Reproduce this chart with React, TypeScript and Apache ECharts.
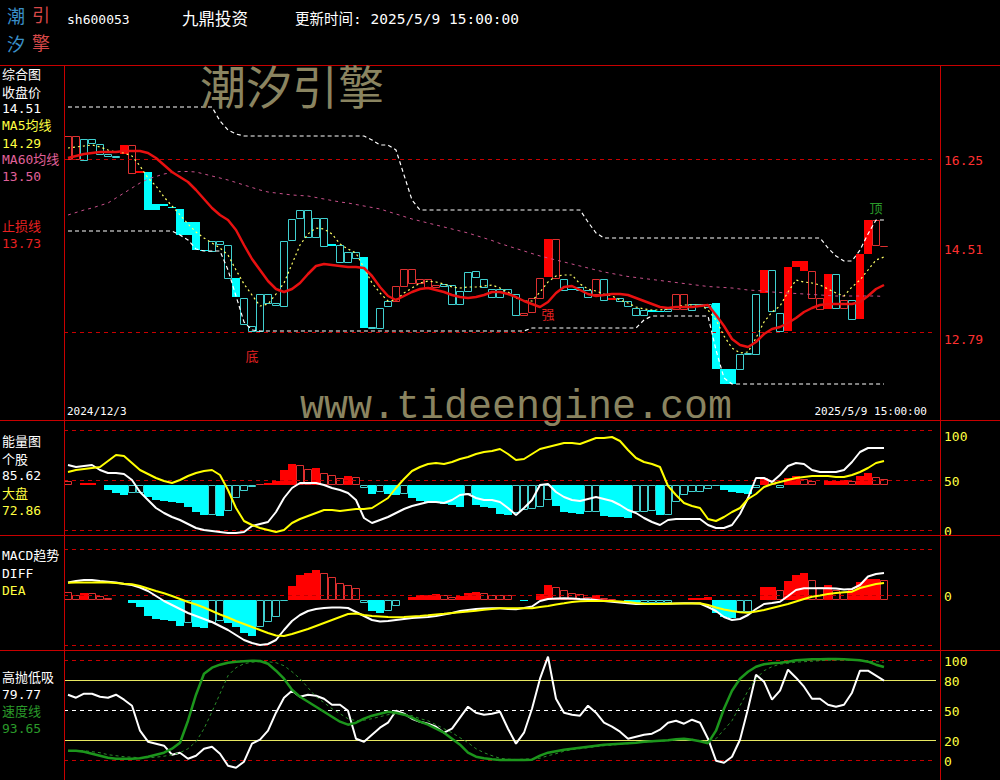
import React, { useEffect, useRef } from "react";
import * as echarts from "echarts";

// ---------------- data ----------------
const startDate = "2024/12/3";
const endDate = "2025/5/9 15:00:00";
const stockCode = "sh600053";
const stockName = "九鼎投资";
const updateTime = "更新时间: 2025/5/9 15:00:00";

const opens = [
  16.25, 16.25, 16.24, 16.58, 16.36, 16.31, 16.29, 16.53, 15.98, 16.01,
  16.0, 15.35, 15.35, 15.3, 15.26, 14.99, 14.99, 14.43, 14.42, 14.56,
  13.88, 13.87, 12.95, 12.82, 12.82, 13.38, 13.33, 13.32, 14.64, 15.08,
  14.7, 14.7, 14.52, 14.55, 14.2, 14.2, 14.28, 14.3, 12.88, 12.88,
  13.31, 13.42, 13.71, 13.78, 13.78, 13.7, 13.7, 13.72, 13.36, 13.36,
  13.62, 13.9, 13.7, 13.5, 13.5, 13.58, 13.13, 13.13, 13.2, 13.48,
  14.66, 13.88, 13.64, 13.66, 13.64, 13.5, 13.55, 13.44, 13.48, 13.42,
  13.31, 13.13, 13.13, 13.24, 13.21, 13.22, 13.26, 13.26, 13.24, 13.33,
  13.3, 13.38, 12.05, 12.05, 12.05, 12.35, 12.36, 14.03, 13.22, 12.82,
  14.1, 14.21, 14.21, 13.48, 13.26, 13.96, 13.28, 13.28, 13.06, 14.35,
  15.03, 14.54, 14.51,
];
const closes = [
  16.71, 16.71, 16.65, 16.65, 16.56, 16.35, 16.31, 16.36, 16.53, 15.98,
  15.24, 15.24, 15.31, 15.27, 14.73, 14.73, 14.44, 14.41, 14.62, 14.62,
  14.54, 13.5, 13.48, 12.92, 13.56, 13.56, 13.38, 14.62, 15.06, 15.24,
  15.24, 15.08, 15.08, 14.51, 14.54, 14.4, 14.4, 12.88, 12.9, 13.28,
  13.41, 13.71, 14.06, 14.06, 13.86, 13.86, 13.74, 13.75, 13.74, 13.61,
  14.0, 14.01, 13.86, 13.65, 13.66, 13.66, 13.56, 13.18, 13.48, 13.88,
  13.9, 14.66, 13.86, 13.63, 13.7, 13.64, 13.86, 13.86, 13.44, 13.48,
  13.42, 13.28, 13.24, 13.2, 13.19, 13.26, 13.55, 13.55, 13.36, 13.36,
  13.36, 12.05, 11.75, 11.75, 12.35, 12.38, 13.56, 13.58, 14.03, 13.18,
  12.82, 14.1, 14.02, 14.02, 13.48, 13.26, 13.96, 13.43, 13.43, 13.06,
  14.35, 15.03, 14.51,
];
// 1 = strong (red) state, -1 = weak (cyan) state
const trend = [
  1, 1, -1, -1, -1, -1, -1, 1, 1, 1,
  -1, -1, -1, -1, -1, -1, -1, -1, -1, -1,
  -1, -1, -1, -1, -1, -1, -1, -1, -1, -1,
  -1, -1, -1, -1, -1, -1, -1, -1, -1, -1,
  -1, 1, 1, 1, 1, 1, 1, -1, -1, -1,
  -1, -1, -1, -1, -1, -1, -1, 1, 1, 1,
  1, 1, -1, -1, -1, -1, 1, -1, 1, -1,
  -1, -1, -1, -1, -1, -1, 1, 1, -1, -1,
  -1, -1, -1, -1, -1, -1, -1, 1, -1, -1,
  1, 1, 1, 1, 1, 1, -1, 1, -1, 1,
  1, 1, 1,
];
const ma5 = [
  16.47, 16.49, 16.51, 16.53, 16.49, 16.43, 16.39, 16.37, 16.31, 16.11,
  15.87, 15.71, 15.49, 15.31, 15.13, 14.95, 14.79, 14.67, 14.57, 14.47,
  14.33, 14.03, 13.75, 13.53, 13.31, 13.35, 13.55, 13.77, 14.15, 14.53,
  14.75, 14.87, 14.85, 14.75, 14.55, 14.45, 14.37, 14.07, 13.77, 13.57,
  13.41, 13.43, 13.57, 13.67, 13.77, 13.81, 13.79, 13.75, 13.69, 13.67,
  13.69, 13.69, 13.71, 13.73, 13.67, 13.59, 13.47, 13.41, 13.41, 13.59,
  13.79, 13.91, 13.93, 13.93, 13.75, 13.65, 13.61, 13.55, 13.51, 13.43,
  13.37, 13.29, 13.25, 13.23, 13.23, 13.25, 13.29, 13.33, 13.33, 13.33,
  13.23, 13.03, 12.71, 12.47, 12.37, 12.39, 12.67, 12.99, 13.19, 13.31,
  13.59, 13.83, 13.79, 13.77, 13.73, 13.65, 13.57, 13.51, 13.69, 13.83,
  14.03, 14.23, 14.29,
];
const ma60 = [
  15.13, 15.18, 15.23, 15.27, 15.32, 15.37, 15.47, 15.57, 15.67, 15.77,
  15.85, 15.9, 15.95, 15.98, 16.0, 16.0, 15.99, 15.95, 15.91, 15.87,
  15.83, 15.78, 15.73, 15.68, 15.63, 15.59, 15.57, 15.55, 15.53, 15.52,
  15.51, 15.48, 15.45, 15.42, 15.39, 15.37, 15.34, 15.31, 15.28, 15.25,
  15.2, 15.15, 15.1, 15.05, 15.01, 14.97, 14.93, 14.89, 14.85, 14.81,
  14.77, 14.72, 14.67, 14.62, 14.56, 14.51, 14.46, 14.41, 14.36, 14.31,
  14.27, 14.23, 14.19, 14.15, 14.11, 14.07, 14.03, 13.99, 13.96, 13.93,
  13.9, 13.88, 13.86, 13.84, 13.82, 13.8, 13.78, 13.76, 13.74, 13.72,
  13.7, 13.69, 13.68, 13.67, 13.65, 13.63, 13.62, 13.61, 13.59, 13.58,
  13.57, 13.56, 13.55, 13.54, 13.53, 13.52, 13.51, 13.51, 13.51, 13.51,
  13.51, 13.51, 13.5,
];
const stopLine = [
  16.27, 16.31, 16.35, 16.37, 16.39, 16.39, 16.39, 16.41, 16.41, 16.41,
  16.37, 16.27, 16.13, 15.99, 15.89, 15.79, 15.63, 15.45, 15.27, 15.13,
  15.03, 14.83, 14.53, 14.25, 14.03, 13.81, 13.65, 13.59, 13.65, 13.77,
  13.95, 14.11, 14.15, 14.13, 14.11, 14.09, 14.09, 14.07, 13.91, 13.69,
  13.51, 13.43, 13.51, 13.59, 13.65, 13.67, 13.63, 13.59, 13.53, 13.49,
  13.47, 13.49, 13.53, 13.59, 13.59, 13.55, 13.49, 13.41, 13.35, 13.29,
  13.39, 13.57, 13.69, 13.71, 13.63, 13.55, 13.51, 13.53, 13.55, 13.55,
  13.53, 13.47, 13.41, 13.35, 13.29, 13.27, 13.29, 13.29, 13.29, 13.31,
  13.33, 13.13, 12.91, 12.65, 12.53, 12.49, 12.59, 12.75, 12.85, 12.89,
  12.97, 13.07, 13.19, 13.27, 13.33, 13.35, 13.35, 13.35, 13.35, 13.39,
  13.51, 13.65, 13.73,
];
const upperBand = [
  17.29, 17.29, 17.29, 17.29, 17.29, 17.29, 17.29, 17.29, 17.29, 17.29,
  17.29, 17.29, 17.29, 17.29, 17.29, 17.29, 17.29, 17.29, 17.29, 17.01,
  16.83, 16.75, 16.71, 16.71, 16.71, 16.71, 16.71, 16.71, 16.71, 16.71,
  16.71, 16.71, 16.71, 16.71, 16.71, 16.71, 16.71, 16.71, 16.63, 16.53,
  16.53, 16.43, 15.93, 15.43, 15.23, 15.23, 15.23, 15.23, 15.23, 15.23,
  15.23, 15.23, 15.23, 15.23, 15.23, 15.23, 15.23, 15.23, 15.23, 15.23,
  15.23, 15.23, 15.23, 15.23, 15.23, 14.99, 14.77, 14.67, 14.67, 14.67,
  14.67, 14.67, 14.67, 14.67, 14.67, 14.67, 14.67, 14.67, 14.67, 14.67,
  14.67, 14.67, 14.67, 14.67, 14.67, 14.67, 14.67, 14.67, 14.67, 14.67,
  14.67, 14.67, 14.67, 14.67, 14.67, 14.47, 14.31, 14.21, 14.21, 14.43,
  14.75, 15.03, 15.03,
];
const lowerBand = [
  14.81, 14.81, 14.81, 14.81, 14.81, 14.81, 14.81, 14.81, 14.81, 14.81,
  14.81, 14.81, 14.81, 14.81, 14.73, 14.63, 14.45, 14.41, 14.41, 14.41,
  14.03, 13.51, 12.99, 12.83, 12.81, 12.81, 12.81, 12.81, 12.81, 12.81,
  12.81, 12.81, 12.81, 12.81, 12.81, 12.81, 12.81, 12.81, 12.81, 12.81,
  12.81, 12.81, 12.81, 12.81, 12.81, 12.81, 12.81, 12.81, 12.81, 12.81,
  12.81, 12.81, 12.81, 12.81, 12.81, 12.81, 12.81, 12.81, 12.87, 12.87,
  12.87, 12.87, 12.87, 12.87, 12.87, 12.87, 12.87, 12.87, 12.87, 12.87,
  12.87, 12.87, 13.03, 13.11, 13.11, 13.11, 13.11, 13.11, 13.11, 13.11,
  13.11, 12.43, 11.87, 11.75, 11.75, 11.75, 11.75, 11.75, 11.75, 11.75,
  11.75, 11.75, 11.75, 11.75, 11.75, 11.75, 11.75, 11.75, 11.75, 11.75,
  11.75, 11.75, 11.75,
];
const priceTicks = [12.79, 14.51, 16.25];
const priceLevels = [16.25, 12.79];
const signalIndex = [23, 60, 101];
const signalPrice = [12.33, 13.17, 15.29];
const signalText = ["底", "强", "顶"];

const energyStock = [
  65, 63, 64, 65, 60, 57, 57, 56, 50, 38,
  30, 22, 17, 13, 10, 6, 2, 0, -1, -2,
  -3, -3, -2, 4, 6, 8, 18, 32, 42, 47,
  47, 47, 45, 42, 40, 37, 30, 12, 7, 10,
  13, 17, 21, 24, 26, 28, 28, 27, 30, 35,
  36, 32, 30, 30, 28, 22, 15, 22, 30, 45,
  46, 38, 33, 30, 29, 31, 33, 31, 29, 25,
  20, 17, 12, 8, 5, 10, 11, 11, 11, 11,
  5, 2, 2, 5, 16, 32, 52, 52, 48, 55,
  64, 67, 66, 60, 58, 58, 58, 60, 68, 78,
  82, 82, 82,
];
const energyMarket = [
  58, 60, 61, 62, 63, 69, 75, 74, 67, 60,
  56, 52, 49, 47, 50, 54, 57, 59, 60, 55,
  40, 22, 9, 5, 2, 0, -2, 0, 7, 11,
  14, 17, 20, 20, 19, 20, 21, 21, 22, 27,
  32, 42, 51, 59, 63, 66, 67, 66, 68, 71,
  73, 76, 78, 79, 81, 76, 70, 71, 76, 81,
  83, 85, 87, 87, 86, 89, 92, 92, 93, 89,
  80, 72, 68, 66, 63, 44, 35, 27, 24, 22,
  11, 9, 13, 18, 22, 31, 36, 43, 46, 48,
  50, 52, 53, 54, 54, 54, 53, 53, 55, 58,
  62, 67, 69,
];
const energyBars = [
  4, null, 2, 2.5, null, -5, -8, -10, -8, -8,
  -12, -15, -16, -17, -18, -22, -27, -30, -30, -31,
  -26, -13, -6, -2, 1.5, 2, 4, 15, 21, 20,
  16, 17, 12, 10, 7, 9, 8, -3, -9, -7,
  -9, -9.5, -9, -13, -16, -17, -18, -19, -20, -22,
  -9, -20, -22, -23, -29, -30, -28, -25, -24, -22,
  -15, -21, -27, -28, -28.5, -27, -27, -31, -31.5, -32,
  -32.5, -27, -27, -26, -30, -30, -17, -10, -7, -7,
  -4, -1, -5, -7, -8, -9, -3, 7, 4, -3,
  7, 9, 6, 4, null, 4, 4.5, 5, 4, 9,
  12, 8, 6,
];
const energyTicks = [0, 50, 100];

const diff = [
  0.125, 0.14, 0.15, 0.15, 0.14, 0.133, 0.125, 0.11, 0.1, 0.075,
  0.04, -0.01, -0.06, -0.1, -0.14, -0.18, -0.21, -0.24, -0.27, -0.31,
  -0.35, -0.4, -0.45, -0.48, -0.5, -0.49, -0.45, -0.35, -0.26, -0.2,
  -0.16, -0.14, -0.13, -0.125, -0.125, -0.13, -0.17, -0.21, -0.25, -0.265,
  -0.26, -0.25, -0.24, -0.23, -0.225, -0.22, -0.21, -0.195, -0.18, -0.16,
  -0.15, -0.14, -0.135, -0.133, -0.133, -0.14, -0.143, -0.13, -0.115, -0.06,
  -0.04, -0.035, -0.033, -0.035, -0.04, -0.043, -0.05, -0.06, -0.067, -0.075,
  -0.083, -0.09, -0.09, -0.09, -0.09, -0.088, -0.085, -0.083, -0.083, -0.085,
  -0.12, -0.16, -0.22, -0.25, -0.24, -0.2, -0.14, -0.09, -0.08, -0.067,
  -0.01, 0.05, 0.067, 0.067, 0.067, 0.067, 0.065, 0.055, 0.06, 0.1,
  0.185, 0.21, 0.22,
];
const dea = [
  0.123, 0.124, 0.125, 0.126, 0.127, 0.125, 0.12, 0.113, 0.107, 0.09,
  0.065, 0.04, 0.017, -0.01, -0.04, -0.07, -0.095, -0.125, -0.16, -0.195,
  -0.225, -0.26, -0.29, -0.32, -0.35, -0.38, -0.405, -0.41, -0.39, -0.365,
  -0.34, -0.31, -0.28, -0.25, -0.22, -0.19, -0.185, -0.2, -0.21, -0.215,
  -0.22, -0.223, -0.22, -0.215, -0.21, -0.203, -0.195, -0.188, -0.18, -0.172,
  -0.165, -0.157, -0.148, -0.14, -0.133, -0.133, -0.133, -0.133, -0.133, -0.12,
  -0.11, -0.095, -0.083, -0.07, -0.062, -0.06, -0.06, -0.06, -0.06, -0.065,
  -0.07, -0.08, -0.088, -0.09, -0.09, -0.088, -0.086, -0.085, -0.084, -0.083,
  -0.1, -0.125, -0.145, -0.16, -0.172, -0.177, -0.165, -0.15, -0.13, -0.11,
  -0.09, -0.065, -0.04, -0.017, -0.005, 0.01, 0.02, 0.027, 0.033, 0.07,
  0.09, 0.11, 0.12,
];
const macdBars = [
  0.083, 0.05, 0.073, 0.067, 0.04, 0.017, null, null, -0.033, -0.067,
  -0.16, -0.193, -0.2, -0.207, -0.26, -0.233, -0.273, -0.28, -0.227, -0.207,
  -0.233, -0.273, -0.327, -0.36, -0.273, -0.217, -0.173, -0.01, 0.14, 0.25,
  0.273, 0.3, 0.267, 0.227, 0.167, 0.15, 0.117, -0.027, -0.107, -0.127,
  -0.107, -0.06, null, 0.027, 0.05, 0.055, 0.06, 0.05, 0.033, 0.04,
  0.073, 0.083, 0.073, 0.05, 0.05, 0.05, null, -0.01, null, 0.06,
  0.15, 0.133, 0.1, 0.073, 0.06, 0.027, 0.05, 0.017, 0.01, null,
  -0.02, -0.03, -0.03, -0.03, -0.03, -0.03, null, null, 0.017, 0.023,
  0.033, -0.127, -0.173, -0.175, -0.117, -0.115, null, 0.133, 0.135, 0.1,
  0.193, 0.25, 0.267, 0.2, 0.133, 0.15, 0.1, 0.083, 0.1, 0.183,
  0.207, 0.21, 0.2,
];
const macdLevels = [0.46, 0, -0.5];

const hiLo = [
  66, 63, 67, 67, 64, 63, 66, 61, 55, 30,
  19, 17, 15, 6, 8, 2, 5, 12, 14, 7,
  -5, -7, -1, 17, 21, 30, 48, 63, 70, 64,
  66, 65, 62, 56, 56, 50, 22, 19, 26, 33,
  38, 50, 47, 42, 39, 37, 34, 28, 32, 43,
  54, 48, 46, 47, 49, 32, 17, 28, 52, 82,
  104, 62, 48, 46, 45, 55, 48, 38, 34, 29,
  22, 24, 26, 27, 31, 38, 40, 37, 41, 38,
  22, 0, -2, 4, 21, 52, 86, 79, 61, 70,
  91, 83, 74, 62, 62, 56, 54, 56, 68, 90,
  90, 85, 80,
];
const speed = [
  10, 10, 9, 7, 5, 3, 2, 2, 2, 2.5,
  4, 6, 8, 12, 18, 40, 66, 87, 93, 96,
  98, 99, 99.5, 100, 99.7, 97, 90, 82, 71, 64,
  59, 54, 49, 44, 39, 36, 38, 42, 45, 47,
  49, 48, 46, 43, 39, 36, 32, 28, 22, 16,
  8, 4, 2.5, 1.5, 0.7, 0.7, 0.7, 0.7, 1, 5,
  8, 9.5, 11, 12, 13, 14, 15, 16, 16.5, 17,
  17.5, 18, 19, 19.5, 20, 20.5, 21.5, 22, 21, 19.5,
  17.5, 30, 52, 70, 82, 89, 94, 96.5, 97.5, 98,
  99, 100.5, 101, 101.5, 101.5, 101.7, 101.7, 101.5, 101, 100.5,
  99, 96, 93.65,
];
const speedSlow = [
  10, 10, 10, 9, 8, 6, 5, 4, 3.5, 3,
  3, 3.5, 4.5, 6, 8, 12, 19, 32, 49, 67,
  85, 93, 97, 98.5, 99, 99, 98, 95, 89, 82,
  73, 64, 58, 52, 47, 42, 40, 40.5, 42, 44,
  46, 47, 46.5, 45, 42, 40, 36, 32, 28, 23,
  18, 12, 8, 5, 2.4, 1.5, 1.2, 1.5, 2, 2.5,
  5, 7, 9.5, 11, 12, 13, 14, 15, 15.5, 16.5,
  17, 18, 18.5, 19, 19.5, 20, 21, 21.7, 21.5, 20,
  19, 22, 31, 40, 55, 70, 82, 90, 94, 96.5,
  97.5, 98.5, 99, 99.5, 100, 100.5, 100.7, 100.7, 100.5, 100,
  99.5, 99, 98.5,
];
const oscTicks = [0, 20, 50, 80, 100];

const legendTop = { close: "14.51", ma5: "14.29", ma60: "13.50", stop: "13.73" };
const legendEnergy = { stock: "85.62", market: "72.86" };
const legendOsc = { hiLo: "79.77", speed: "93.65" };

// ---------------- styling ----------------
const RED_FILL = "#ff0000";
const RED_LINE = "#dd3030";
const CYAN_FILL = "#00ffff";
const CYAN_LINE = "#40d0d0";
const FRAME = "#c80000";
const MONO = '"DejaVu Sans Mono", "Noto Sans CJK SC", monospace';

const pts = (arr: any[]) => arr.map((v, i) => [i, v]);

function grows(arr: any[], i: number) {
  if (i === 0) return false;
  const prev = arr[i - 1];
  if (prev == null) return true;
  return Math.abs(arr[i]) > Math.abs(prev);
}

function barData(arr: any[]) {
  const out: any[] = [];
  arr.forEach((v, i) => {
    if (v != null) out.push([i, v, grows(arr, i) ? 1 : 0]);
  });
  return out;
}

function renderBar(params: any, api: any) {
  const i = api.value(0);
  const v = api.value(1);
  const f = api.value(2);
  const p0 = api.coord([i, 0]);
  const p1 = api.coord([i, v]);
  const cx = Math.round(p0[0]);
  const up = v > 0;
  const yA = Math.round(Math.min(p0[1], p1[1]));
  const yB = Math.round(Math.max(p0[1], p1[1]));
  if (f) {
    return {
      type: "rect",
      shape: { x: cx - 4, y: yA, width: 8, height: Math.max(yB - yA, 1) },
      style: { fill: up ? RED_FILL : CYAN_FILL },
    };
  }
  return {
    type: "rect",
    shape: { x: cx - 3.5, y: yA + 0.5, width: 7, height: Math.max(yB - yA - 1, 0) },
    style: { fill: "none", stroke: up ? RED_LINE : CYAN_LINE, lineWidth: 1 },
  };
}

function renderCandle(params: any, api: any) {
  const i = api.value(0);
  const o = api.value(1);
  const c = api.value(2);
  const t = api.value(3);
  const pTop = api.coord([i, Math.max(o, c)]);
  const pBot = api.coord([i, Math.min(o, c)]);
  const cx = Math.round(pTop[0]);
  const yA = Math.round(pTop[1]);
  const yB = Math.round(pBot[1]);
  const hollow = c >= o;
  if (!hollow) {
    return {
      type: "rect",
      shape: { x: cx - 4, y: yA, width: 8, height: Math.max(yB - yA, 1) },
      style: { fill: t > 0 ? RED_FILL : CYAN_FILL },
    };
  }
  return {
    type: "rect",
    shape: { x: cx - 3.5, y: yA + 0.5, width: 7, height: Math.max(yB - yA, 0) },
    style: { fill: "none", stroke: t > 0 ? RED_LINE : CYAN_LINE, lineWidth: 1 },
  };
}

function lineSeries(data: number[], xi: number, yi: number, style: any, extra: any = {}) {
  return {
    type: "line",
    xAxisIndex: xi,
    yAxisIndex: yi,
    data: pts(data),
    showSymbol: false,
    symbol: "none",
    silent: true,
    z: 5,
    lineStyle: style,
    ...extra,
  };
}

function dashedLevels(values: number[], color = FRAME) {
  return {
    symbol: "none",
    silent: true,
    label: { show: false },
    lineStyle: { color, type: [4, 4], width: 1 },
    data: values.map((v) => ({ yAxis: v })),
  };
}

function txt(text: string, x: number, y: number, fill: string, size = 13, extra: any = {}) {
  return {
    type: "text",
    x,
    y,
    z: 50,
    silent: true,
    style: { text, fill, font: `${size}px ${MONO}`, verticalAlign: "middle", ...extra },
  };
}

function hline(y: number) {
  return { type: "line", silent: true, z: 40, shape: { x1: 0, y1: y, x2: 1000, y2: y }, style: { stroke: FRAME, lineWidth: 1 } };
}
function vline(x: number) {
  return { type: "line", silent: true, z: 40, shape: { x1: x, y1: 65, x2: x, y2: 780 }, style: { stroke: FRAME, lineWidth: 1 } };
}

// axis label whose text is pushed down by `shift(v)` pixels
function yLabel(vals: number[], color: string, fmt: (v: number) => string, shift: (v: number) => number) {
  const rich: any = {};
  for (let s = 0; s <= 16; s++) rich["s" + s] = { color, fontFamily: MONO, fontSize: 13, padding: [s * 2, 0, 0, 0] };
  return {
    customValues: vals,
    formatter: (v: number) => `{s${shift(v)}|${fmt(v)}}`,
    color,
    fontFamily: MONO,
    fontSize: 13,
    margin: 8,
    rich,
  };
}

function buildOption() {
  const grids = [
    { left: 64, top: 65, width: 872, height: 355 },
    { left: 64, top: 420, width: 872, height: 115 },
    { left: 64, top: 535, width: 872, height: 115 },
    { left: 64, top: 650, width: 872, height: 130 },
  ];
  const xAxes = grids.map((_, g) => ({ type: "value", gridIndex: g, min: -0.5, max: 108.5, show: false }));
  const hiddenParts = { axisLine: { show: false }, axisTick: { show: false }, splitLine: { show: false } };
  const yAxes = [
    {
      type: "value", gridIndex: 0, min: 11.03, max: 18.13, position: "right", ...hiddenParts,
      axisLabel: yLabel(priceTicks, "#ff3030", (v) => v.toFixed(2), (v) => (v < 13 ? 7 : v < 15 ? 3 : 1)),
    },
    {
      type: "value", gridIndex: 1, min: -5, max: 110, position: "right", ...hiddenParts,
      axisLabel: yLabel(energyTicks, "#ffff40", (v) => String(v), (v) => (v >= 100 ? 6 : 1)),
    },
    { type: "value", gridIndex: 1, min: -50, max: 65, show: false },
    {
      type: "value", gridIndex: 2, min: -0.55, max: 0.6, position: "right", ...hiddenParts,
      axisLabel: yLabel([0], "#ffff40", () => "0", () => 1),
    },
    { type: "value", gridIndex: 2, min: -0.5, max: 0.65, show: false },
    {
      type: "value", gridIndex: 3, min: -19.3, max: 110.7, position: "right", ...hiddenParts,
      axisLabel: yLabel(oscTicks, "#ffff40", (v) => String(v), () => 1),
    },
  ];

  const signalColors: any = { 底: "#e02020", 强: "#e02020", 顶: "#2a9a2a" };

  const series: any[] = [
    {
      type: "custom",
      xAxisIndex: 0,
      yAxisIndex: 0,
      z: 3,
      silent: true,
      data: opens.map((o, i) => [i, o, closes[i], trend[i]]),
      encode: { x: 0, y: [1, 2] },
      renderItem: renderCandle,
    },
    lineSeries(ma60, 0, 0, { color: "#c8508a", width: 1, type: [3, 4] }, {
      markLine: dashedLevels(priceLevels),
      markPoint: {
        symbol: "rect",
        symbolSize: 1,
        silent: true,
        itemStyle: { color: "rgba(0,0,0,0)" },
        data: signalIndex.map((idx, k) => ({
          coord: [idx, signalPrice[k]],
          value: signalText[k],
          label: {
            show: true,
            formatter: signalText[k],
            color: signalColors[signalText[k]],
            fontSize: 13,
            fontFamily: '"Noto Sans CJK SC"',
            position: "inside",
          },
        })),
      },
    }),
    lineSeries(upperBand, 0, 0, { color: "#ffffff", width: 1.2, type: [4, 3] }),
    lineSeries(lowerBand, 0, 0, { color: "#ffffff", width: 1.2, type: [4, 3] }),
    lineSeries(ma5, 0, 0, { color: "#ffff66", width: 1.2, type: [2, 3] }),
    lineSeries(stopLine, 0, 0, { color: "#e81010", width: 2.5 }),
    {
      type: "custom",
      xAxisIndex: 1,
      yAxisIndex: 2,
      z: 3,
      silent: true,
      data: barData(energyBars),
      encode: { x: 0, y: 1 },
      renderItem: renderBar,
    },
    lineSeries(energyStock, 1, 1, { color: "#ffffff", width: 2 }, { markLine: dashedLevels(energyTicks) }),
    lineSeries(energyMarket, 1, 1, { color: "#ffff00", width: 2 }),
    {
      type: "custom",
      xAxisIndex: 2,
      yAxisIndex: 4,
      z: 3,
      silent: true,
      data: barData(macdBars),
      encode: { x: 0, y: 1 },
      renderItem: renderBar,
    },
    lineSeries(diff, 2, 3, { color: "#ffffff", width: 2 }, { markLine: dashedLevels(macdLevels) }),
    lineSeries(dea, 2, 3, { color: "#ffff00", width: 2 }),
    lineSeries(hiLo, 3, 5, { color: "#ffffff", width: 2 }, {
      markLine: {
        symbol: "none",
        silent: true,
        label: { show: false },
        data: [
          { yAxis: 100, lineStyle: { color: FRAME, type: [4, 4], width: 1 } },
          { yAxis: 0, lineStyle: { color: FRAME, type: [4, 4], width: 1 } },
          { yAxis: 80, lineStyle: { color: "#e8e860", type: "solid", width: 1 } },
          { yAxis: 20, lineStyle: { color: "#e8e860", type: "solid", width: 1 } },
          { yAxis: 50, lineStyle: { color: "#ffffff", type: [4, 4], width: 1 } },
        ],
      },
    }),
    lineSeries(speedSlow, 3, 5, { color: "#2a8a2a", width: 1, type: [3, 3] }),
    lineSeries(speed, 3, 5, { color: "#1c961c", width: 2.5 }),
  ];

  const logoFont = '18px "Noto Sans CJK SC"';
  const logoStyle = (text: string, fill: string) => ({ text, fill, font: logoFont, verticalAlign: "middle", lineHeight: 18 });
  const graphic: any[] = [
    hline(65.5), hline(420.5), hline(535.5), hline(650.5), vline(64.5), vline(940.5),
    // logo
    { type: "text", x: 7, y: 15, z: 50, silent: true, style: logoStyle("潮", "#3a8fc8") },
    { type: "text", x: 32, y: 14, z: 50, silent: true, style: logoStyle("引", "#d84848") },
    { type: "text", x: 7, y: 43, z: 50, silent: true, style: logoStyle("汐", "#3a8fc8") },
    { type: "text", x: 32, y: 42, z: 50, silent: true, style: logoStyle("擎", "#d84848") },
    txt(stockCode, 67, 19, "#ffffff", 13),
    txt(stockName, 182, 19, "#ffffff", 16.5),
    txt(updateTime, 295, 19, "#ffffff", 14.5),
    // watermarks
    { type: "text", x: 200, y: 84, z: 45, silent: true, style: { text: "潮汐引擎", fill: "#8a8460", font: '46px "Noto Sans CJK SC"', verticalAlign: "middle" } },
    { type: "text", x: 300, y: 407, z: 45, silent: true, style: { text: "www.tideengine.com", fill: "#8a8460", font: '40px "Liberation Mono", monospace', verticalAlign: "middle" } },
    // date labels
    txt(startDate, 67, 411, "#ffffff", 11),
    txt(endDate, 927, 411, "#ffffff", 11, { align: "right" }),
    // left legends top
    txt("综合图", 2, 74, "#ffffff"),
    txt("收盘价", 2, 92, "#ffffff"),
    txt(legendTop.close, 2, 108, "#ffffff"),
    txt("MA5均线", 2, 125, "#ffff40"),
    txt(legendTop.ma5, 2, 143, "#ffff40"),
    txt("MA60均线", 2, 159, "#e0609a"),
    txt(legendTop.ma60, 2, 176, "#e0609a"),
    txt("止损线", 2, 226, "#e82020"),
    txt(legendTop.stop, 2, 243, "#e82020"),
    // energy
    txt("能量图", 2, 441, "#ffffff"),
    txt("个股", 2, 459, "#ffffff"),
    txt(legendEnergy.stock, 2, 475, "#ffffff"),
    txt("大盘", 2, 493, "#ffff40"),
    txt(legendEnergy.market, 2, 510, "#ffff40"),
    // macd
    txt("MACD趋势", 2, 555, "#ffffff"),
    txt("DIFF", 2, 573, "#ffffff"),
    txt("DEA", 2, 590, "#ffff40"),
    // oscillator
    txt("高抛低吸", 2, 677, "#ffffff"),
    txt(legendOsc.hiLo, 2, 694, "#ffffff"),
    txt("速度线", 2, 711, "#2a9a2a"),
    txt(legendOsc.speed, 2, 728, "#2a9a2a"),
  ];

  return {
    animation: false,
    backgroundColor: "#000000",
    grid: grids,
    xAxis: xAxes,
    yAxis: yAxes,
    series,
    graphic,
  };
}

export default function App() {
  const ref = useRef<HTMLDivElement>(null);
  useEffect(() => {
    document.body.style.margin = "0";
    document.body.style.background = "#000";
    const chart = echarts.init(ref.current as HTMLDivElement, null, { renderer: "svg" });
    chart.setOption(buildOption() as any);
    return () => chart.dispose();
  }, []);
  return <div ref={ref} style={{ width: 1000, height: 780, background: "#000" }} />;
}
